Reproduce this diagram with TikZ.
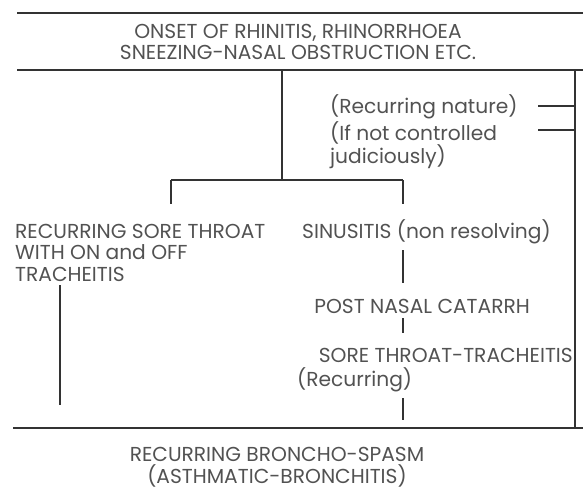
\documentclass[tikz,border=0pt]{standalone}
\usepackage{fontspec}
\setmainfont{Poppins}
\begin{document}
\begin{tikzpicture}[x=1pt,y=-1pt,
	rule/.style={line width=1.6pt,draw=black!80},
	link/.style={line width=1.1pt,draw=black!80},
	txt/.style={inner sep=0pt,text=black!68,font=\fontsize{20.2}{21.5}\selectfont},
	one/.style={txt,text height=14pt,text depth=0pt}]
			\useasboundingbox (0,0) rectangle (583,498);
			
			\node[txt,align=center] (onset) at (298,42) {ONSET OF RHINITIS, RHINORRHOEA\\SNEEZING-NASAL OBSTRUCTION ETC.};
			\node[one,anchor=west] (nature) at (330,106) {(Recurring nature)};
			\node[txt,align=left,anchor=north west] (control) at (330,121) {(If not controlled\\judiciously)};
			\node[txt,align=left,anchor=north west] (throat) at (15,224) {RECURRING SORE THROAT\\WITH ON and OFF\\TRACHEITIS};
			\node[one,anchor=west] (sinus) at (302,231) {SINUSITIS (non resolving)};
			\node[one,anchor=east] (catarrh) at (530,306) {POST NASAL CATARRH};
			\node[one,anchor=east] (sore) at (573,355) {SORE THROAT-TRACHEITIS};
			\node[one,anchor=west] (recur) at (297,379) {(Recurring)};
			\node[txt,align=center] (broncho) at (277,467) {RECURRING BRONCHO-SPASM\\(ASTHMATIC-BRONCHITIS)};
			
			\coordinate (t1) at (17,13);
			\coordinate (t2) at (583,13);
			\coordinate (m1) at (17,70);
			\coordinate (m2) at (583,70);
			\coordinate (b1) at (13,428);
			\coordinate (b2) at (583,428);
			\coordinate (split) at (282,70);
			\coordinate (fork) at (282,180);
			\coordinate (fl) at (171,180);
			\coordinate (fr) at (403,180);
			\coordinate (fl2) at (171,204);
			\coordinate (fr2) at (403,204);
			\coordinate (s1) at (403,250);
			\coordinate (s2) at (403,283);
			\coordinate (c1) at (403,318);
			\coordinate (c2) at (403,333);
			\coordinate (r1) at (403,398);
			\coordinate (r2) at (403,420);
			\coordinate (l1) at (60,285);
			\coordinate (l2) at (60,405);
			\coordinate (rt) at (575,70);
			\coordinate (rb) at (575,428);
			\coordinate (k1) at (538,106);
			\coordinate (k2) at (538,130);
			
			\draw[rule] (t1) -- (t2);
			\draw[rule] (m1) -- (m2);
			\draw[rule] (b1) -- (b2);
			
			\draw[link] (split) -- (fork);
			\draw[link] (fl) -- (fr);
			\draw[link] (fl) -- (fl2);
			\draw[link] (fr) -- (fr2);
			\draw[link] (s1) -- (s2);
			\draw[link] (c1) -- (c2);
			\draw[link] (r1) -- (r2);
			\draw[link] (l1) -- (l2);
			\draw[link] (rt) -- (rb);
			\draw[link] (k1) -- (k1 -| rt);
			\draw[link] (k2) -- (k2 -| rt);
		\end{tikzpicture}
\end{document}
